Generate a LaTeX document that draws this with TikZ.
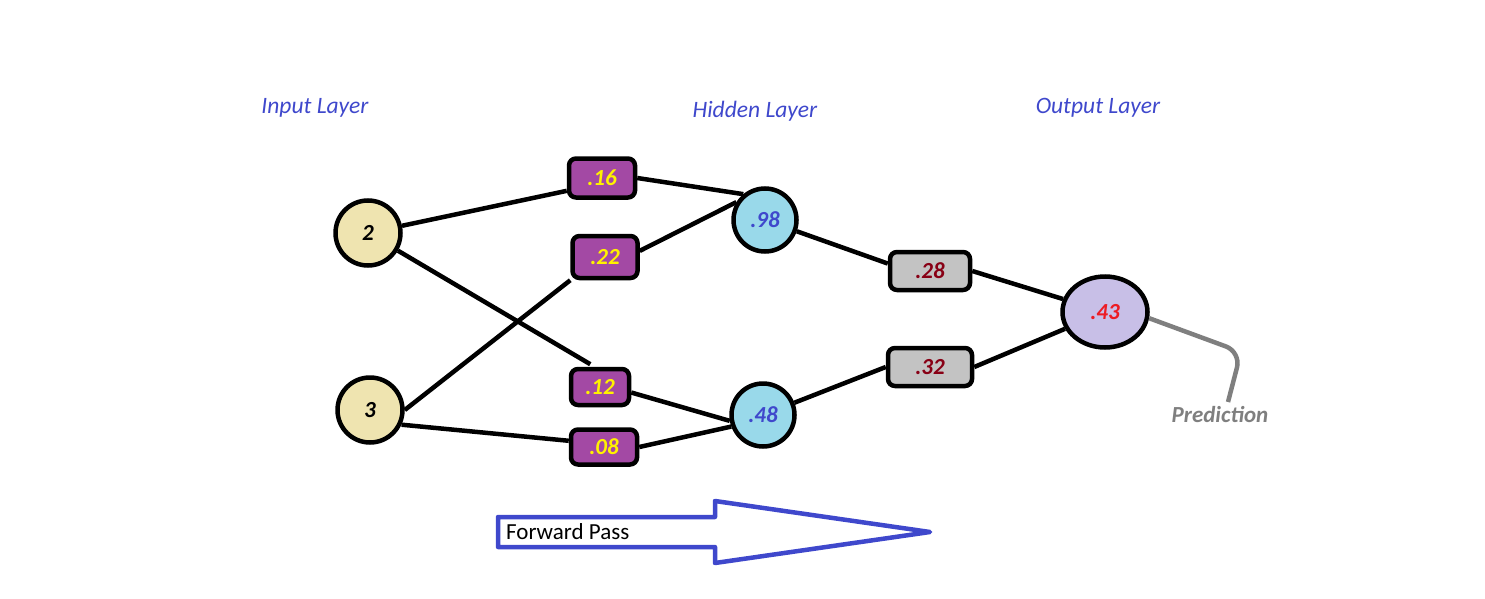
\documentclass[tikz,border=0pt]{standalone}
\usepackage{fontspec}
\setmainfont{Carlito}
\usepackage{tikz}
\usetikzlibrary{positioning, arrows.meta, shapes.geometric}

% Paint palette colours
\definecolor{inputfill}{HTML}{EFE4B0}
\definecolor{weightfill}{HTML}{A349A4}
\definecolor{weighttext}{HTML}{FFF200}
\definecolor{hiddenfill}{HTML}{99D9EA}
\definecolor{hiddentext}{HTML}{3F48CC}
\definecolor{outweightfill}{HTML}{C3C3C3}
\definecolor{outweighttext}{HTML}{880015}
\definecolor{outputfill}{HTML}{C8BFE7}
\definecolor{outputtext}{HTML}{ED1C24}
\definecolor{layerblue}{HTML}{3F48CC}
\definecolor{predgray}{HTML}{7F7F7F}

\begin{document}
\begin{tikzpicture}[
        x=1pt, y=-1pt,            % pixel coordinates, y going down
        font=\fontsize{23}{27}\selectfont,
        link/.style={             % black connections
            draw=black,
            line width=4.5pt
        },
        neuron/.style={           % common look of the circles
            circle,
            draw=black,
            line width=4.5pt,
            font=\fontsize{23}{27}\selectfont\bfseries\itshape
        },
        innode/.style={neuron, fill=inputfill, minimum size=65pt},
        hidnode/.style={neuron, fill=hiddenfill, text=hiddentext, minimum size=63pt},
        outnode/.style={neuron, ellipse, fill=outputfill, text=outputtext,
            minimum width=85pt, minimum height=71pt},
        weight/.style={           % rounded boxes holding the weights
            draw=black,
            line width=4.5pt,
            rounded corners=7pt,
            fill=weightfill,
            text=weighttext,
            minimum width=66pt,
            minimum height=39pt,
            font=\fontsize{23}{27}\selectfont\bfseries\itshape
        },
        outweight/.style={weight, fill=outweightfill, text=outweighttext,
            minimum width=80pt, minimum height=38pt},
        layer/.style={text=layerblue, font=\fontsize{23.5}{27}\selectfont\itshape}
    ]

    \useasboundingbox (0,0) rectangle (1485,599);

    % --- Layer titles ---
    \node[layer] (tin)  at (315,108) {Input Layer};
    \node[layer] (thid) at (755,111) {Hidden Layer};
    \node[layer] (tout) at (1098,108) {Output Layer};

    % --- Neurons ---
    \node[innode]  (in2)  at (368,233) {2};
    \node[innode]  (in3)  at (370,410) {3};
    \node[hidnode] (h98)  at (765,220) {.98};
    \node[hidnode] (h48)  at (763,415) {.48};
    \node[outnode] (o43)  at (1105,312) {.43};

    % --- Weights input -> hidden ---
    \node[weight] (w16) at (602,178) {.16};
    \node[weight, minimum width=65pt, minimum height=42pt] (w22) at (605,257) {.22};
    \node[weight, minimum width=58pt, minimum height=36pt] (w12) at (600,387) {.12};
    \node[weight, minimum height=35pt] (w08) at (604,447) {.08};

    % --- Weights hidden -> output ---
    \node[outweight] (g28) at (930,271) {.28};
    \node[outweight, minimum width=84pt] (g32) at (930,367) {.32};

    % --- Prediction label ---
    \node[text=predgray, font=\fontsize{23}{27}\selectfont\bfseries\itshape]
        (pred) at (1220,415) {Prediction};
    \coordinate (predtip) at (1228,402);

    % --- Connections ---

    % 1. input 2
    \draw[link] (in2) -- (w16.200);
    \draw[link, shorten >=5pt] (in2) -- (w12.105);

    % 2. input 3
    \draw[link] (in3.east) -- (w22.south west);
    \draw[link] (in3.-25) -- (w08.170);

    % 3. weights -> hidden neurons
    \draw[link] (w16.east) -- (h98.130);
    \draw[link] (w22.10) -- (h98.148);
    \draw[link] (w12.-10) -- (h48.190);
    \draw[link] (w08.east) -- (h48.200);

    % 4. hidden neurons -> output
    \draw[link] (h98) -- (g28.170);
    \draw[link] (h48) -- (g32.west);
    \draw[link] (g28.east) -- (o43);
    \draw[link] (g32.east) -- (o43);

    % 5. output -> prediction
    \draw[predgray, line width=4.5pt, rounded corners=16pt]
        (o43.-8) -- (1241,352) -- (predtip);

    % --- Forward pass arrow ---
    \draw[layerblue, line width=4.5pt, line join=round]
        (498,517) -- (715,517) -- (715,501) -- (930,532) -- (715,563)
        -- (715,547) -- (498,547) -- cycle;
    \node[anchor=west, inner sep=0pt] (fwd) at (506,532) {Forward Pass};

\end{tikzpicture}
\end{document}
